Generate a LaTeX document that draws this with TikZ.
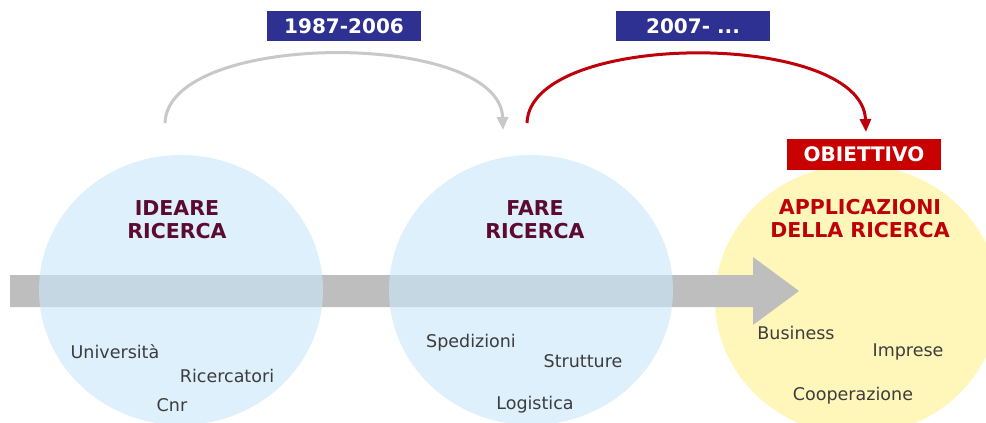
\documentclass[tikz,border=0pt]{standalone}
\usepackage{fontspec}
\setmainfont{DejaVu Sans}
\usepackage{xcolor}
\usetikzlibrary{arrows.meta}
\usetikzlibrary{shapes.geometric,positioning}

\definecolor{navyband}{RGB}{46,49,146}
\definecolor{goalred}{RGB}{200,0,0}
\definecolor{arcred}{RGB}{190,0,10}
\definecolor{arcgray}{RGB}{200,200,200}
\definecolor{flowgray}{RGB}{190,190,190}
\definecolor{phaseblue}{RGB}{201,231,250}
\definecolor{phaseyellow}{RGB}{255,247,185}
\definecolor{titlemaroon}{RGB}{92,10,48}
\definecolor{itemgray}{RGB}{60,60,60}

\begin{document}
\begin{tikzpicture}[x=1pt,y=-1pt]
  \tikzset{phase/.style = {shape=ellipse,minimum width=284pt,minimum height=270pt,inner sep=0pt}}
    \tikzset{bluephase/.style = {phase, fill=phaseblue, fill opacity=0.63}}
    \tikzset{yellowphase/.style = {phase, fill=phaseyellow}}
  \tikzset{period/.style = {fill=navyband, text=white, font=\bfseries\fontsize{20}{20}\selectfont, minimum width=154pt, minimum height=30pt, inner sep=0pt}}
  \tikzset{goal/.style = {fill=goalred, text=white, font=\bfseries\fontsize{20}{20}\selectfont, minimum width=154pt, minimum height=31pt, inner sep=0pt}}
  \tikzset{title/.style = {font=\bfseries\fontsize{20.5}{23}\selectfont, align=center, text=titlemaroon}}
  \tikzset{item/.style = {font=\fontsize{17.5}{17.5}\selectfont, text=itemgray, inner sep=0pt}}
  \tikzset{%
  hophead/.tip={Triangle[length=13pt,width=11pt]},
  hop/.style = {line width=3pt, -hophead},
}

  \useasboundingbox (0,0) rectangle (986,423);
  \clip (0,0) rectangle (986,423);

	\node[yellowphase] (APPL) at (857,300) {};

	% big flow arrow
	\fill[flowgray] (10,275) -- (753,275) -- (753,257) -- (799,291) -- (753,325) -- (753,307) -- (10,307) -- cycle;

	\node[bluephase] (IDEA) at (181,290) {};
	\node[bluephase] (FARE) at (531,290) {};

	\node[period] (P1) at (344,26) {1987-2006};
	\node[period] (P2) at (693,26) {2007- ...};
	\node[goal] (GOAL) at (864,154.5) {OBIETTIVO};

	\node[title] (IDEAT) at (177,219.5) {IDEARE\\RICERCA};
	\node[title] (FARET) at (535,219.5) {FARE\\RICERCA};
	\node[title, text=arcred] (APPLT) at (860,219) {APPLICAZIONI\\DELLA RICERCA};

    \foreach \id/\px/\py/\word in {univ/115/352/Università, ricer/227/376/Ricercatori, cnr/172/405/Cnr,
      sped/471/343/Spedizioni, strut/583/361/Strutture, logi/535/405/Logistica,
      busi/796/333/Business, impr/908/352/Imprese, coop/853/396/Cooperazione}
    \node[item] (\id) at (\px,\py) {\word};

	\coordinate (IDEAout) at (165,123);
	\coordinate (FAREin) at (503,130);
	\coordinate (FAREout) at (527,123);
	\coordinate (APPLin) at (866,132);

    \draw[hop, draw=arcgray] (IDEAout) .. controls (168,30) and (500,30) .. (FAREin);
    \draw[hop, draw=arcred] (FAREout) .. controls (530,30) and (862,30) .. (APPLin);

\end{tikzpicture}
\end{document}
